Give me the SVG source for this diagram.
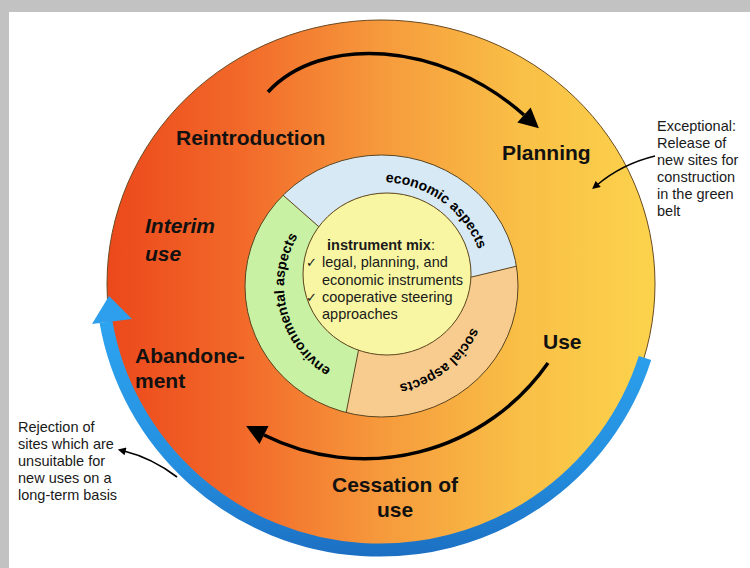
<svg xmlns="http://www.w3.org/2000/svg" width="750" height="568" viewBox="0 0 750 568">
<defs>
  <linearGradient id="gOuter" gradientUnits="userSpaceOnUse" x1="107" y1="0" x2="656" y2="0">
    <stop offset="0" stop-color="#ec481b"/>
    <stop offset="0.25" stop-color="#f26a2a"/>
    <stop offset="0.5" stop-color="#f69a3c"/>
    <stop offset="0.75" stop-color="#f9bf46"/>
    <stop offset="1" stop-color="#fcd34c"/>
  </linearGradient>
  <linearGradient id="gBlue" gradientUnits="userSpaceOnUse" x1="0" y1="300" x2="0" y2="566">
    <stop offset="0" stop-color="#2ea7f2"/>
    <stop offset="0.6" stop-color="#2590e0"/>
    <stop offset="1" stop-color="#1b6cc0"/>
  </linearGradient>
  <marker id="bigHead" markerUnits="userSpaceOnUse" viewBox="0 0 10 10" refX="0" refY="5" markerWidth="22" markerHeight="20" orient="auto">
    <path d="M0,0 L10,5 L0,10 Z" fill="#000"/>
  </marker>
  <marker id="smallHead" markerUnits="userSpaceOnUse" viewBox="0 0 10 10" refX="2" refY="5" markerWidth="9" markerHeight="8" orient="auto">
    <path d="M0,0 L10,5 L0,10 Z" fill="#000"/>
  </marker>
  <path id="pEcon" d="M362.9,183.6 A104,104 0 0 1 484,271.5"/>
  <path id="pEnv" d="M338.5,373.2 A97,97 0 0 1 302.5,229"/>
  <path id="pSoc" d="M480.9,289.5 A100,100 0 0 1 360.2,383.8"/>
  <style>
    .stage { font-family: "Liberation Sans", Arial, sans-serif; font-weight: bold; font-size: 21px; fill: #111; }
    .ring { font-family: "Liberation Sans", Arial, sans-serif; font-weight: bold; font-size: 14px; fill: #000; }
    .body { font-family: "Liberation Sans", Arial, sans-serif; font-size: 14.5px; fill: #1a1a1a; }
    .tick { font-family: "DejaVu Sans", sans-serif; font-size: 13px; }
    .edge { fill: none; stroke: #5a4520; stroke-width: 1; }
    .arc { fill: none; stroke: #000; stroke-width: 3.5; }
    .thin { fill: none; stroke: #000; stroke-width: 1.6; }
  </style>
</defs>

<rect x="0" y="0" width="750" height="568" fill="#ffffff"/>
<rect x="0" y="0" width="750" height="12" fill="#c2c2c2"/>
<rect x="0" y="0" width="9" height="568" fill="#c2c2c2"/>

<g id="outer-cycle">
  <ellipse cx="381" cy="284" rx="274" ry="264" fill="url(#gOuter)" stroke="#6a4a22" stroke-width="1"/>
</g>

<g id="aspects-ring">
  <path id="economic" d="M283.1,195.2 A136.5,131 0 0 1 516.4,266.2 L470.9,277.2 A84,81 0 0 0 318.8,226.7 Z" fill="#d7e9f5"/>
  <path id="social" d="M516.4,266.2 A136.5,131 0 0 1 346.2,412.5 L358.5,350.2 A84,81 0 0 0 470.9,277.2 Z" fill="#f8cc8f"/>
  <path id="environmental" d="M346.2,412.5 A136.5,131 0 0 1 283.1,195.2 L318.8,226.7 A84,81 0 0 0 358.5,350.2 Z" fill="#c9f1a3"/>
  <ellipse class="edge" cx="381.5" cy="286" rx="136.5" ry="131"/>
  <line class="edge" x1="283.1" y1="195.2" x2="318.8" y2="226.7"/>
  <line class="edge" x1="516.4" y1="266.2" x2="470.9" y2="277.2"/>
  <line class="edge" x1="346.2" y1="412.5" x2="358.5" y2="350.2"/>
  <text class="ring"><textPath href="#pEcon" startOffset="50%" text-anchor="middle">economic aspects</textPath></text>
  <text class="ring"><textPath href="#pEnv" startOffset="50%" text-anchor="middle">environmental aspects</textPath></text>
  <text class="ring"><textPath href="#pSoc" startOffset="50%" text-anchor="middle">social aspects</textPath></text>
</g>

<g id="instrument-mix">
  <ellipse cx="387" cy="274" rx="84" ry="81" fill="#f8f6a2" stroke="#5a4520" stroke-width="1"/>
  <text class="body" x="327" y="250" font-weight="bold">instrument mix<tspan font-weight="normal">:</tspan></text>
  <text class="body" x="306" y="267"><tspan class="tick">✓</tspan><tspan x="322">legal, planning, and</tspan></text>
  <text class="body" x="322" y="285">economic instruments</text>
  <text class="body" x="306" y="302"><tspan class="tick">✓</tspan><tspan x="322">cooperative steering</tspan></text>
  <text class="body" x="322" y="319">approaches</text>
</g>

<g id="stage-reintroduction"><text class="stage" x="176" y="145">Reintroduction</text></g>
<g id="stage-planning"><text class="stage" x="502" y="160">Planning</text></g>
<g id="stage-interim-use">
  <text class="stage" x="145" y="233" font-style="italic">Interim</text>
  <text class="stage" x="145" y="261" font-style="italic">use</text>
</g>
<g id="stage-abandonement">
  <text class="stage" x="135" y="363">Abandone-</text>
  <text class="stage" x="135" y="388">ment</text>
</g>
<g id="stage-use"><text class="stage" x="543" y="349">Use</text></g>
<g id="stage-cessation">
  <text class="stage" x="395" y="492" text-anchor="middle">Cessation of</text>
  <text class="stage" x="395" y="517" text-anchor="middle">use</text>
</g>

<g id="note-exceptional">
  <text class="body" x="657" y="131">Exceptional:</text>
  <text class="body" x="657" y="148">Release of</text>
  <text class="body" x="657" y="165">new sites for</text>
  <text class="body" x="657" y="182">construction</text>
  <text class="body" x="657" y="199">in the green</text>
  <text class="body" x="657" y="216">belt</text>
</g>
<g id="note-rejection">
  <text class="body" x="18" y="432">Rejection of</text>
  <text class="body" x="18" y="449">sites which are</text>
  <text class="body" x="18" y="466">unsuitable for</text>
  <text class="body" x="18" y="483">new uses on a</text>
  <text class="body" x="18" y="500">long-term basis</text>
</g>

<g id="connectors">
  <path class="arc" d="M268,92 C320,35 440,40 524,115" marker-end="url(#bigHead)"/>
  <path class="arc" d="M548,363 A224,224 0 0 1 264,435" marker-end="url(#bigHead)"/>
  <path d="M645,358 A278,275 0 0 1 106,322" fill="none" stroke="url(#gBlue)" stroke-width="13"/>
  <polygon points="109,296 132,319 92,324" fill="#2d9fec"/>
  <path class="thin" d="M655,156 Q622,164 597,185" marker-end="url(#smallHead)"/>
  <path class="thin" d="M177,477 Q152,458 124,451" marker-end="url(#smallHead)"/>
</g>
</svg>
